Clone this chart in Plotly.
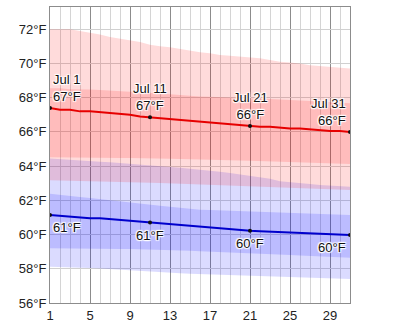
import plotly.graph_objects as go

days = list(range(1, 32))
label_days = [1, 11, 21, 31]
label_names = ["Jul 1", "Jul 11", "Jul 21", "Jul 31"]
x_ticks = [1, 5, 9, 13, 17, 21, 25, 29]
y_ticks = [56, 58, 60, 62, 64, 66, 68, 70, 72]

# average daily high / low (°F)
high_avg = [67.4, 67.3, 67.3, 67.2, 67.2, 67.15, 67.1, 67.05, 67.0, 66.9, 66.85,
            66.8, 66.75, 66.7, 66.65, 66.6, 66.55, 66.5, 66.45, 66.4, 66.35,
            66.3, 66.3, 66.25, 66.2, 66.2, 66.15, 66.1, 66.05, 66.05, 66.0]
low_avg = [61.15, 61.1, 61.05, 61.0, 60.95, 60.95, 60.9, 60.85, 60.8, 60.75, 60.7,
           60.65, 60.6, 60.55, 60.5, 60.45, 60.4, 60.35, 60.3, 60.25, 60.22,
           60.2, 60.17, 60.15, 60.13, 60.1, 60.07, 60.05, 60.02, 60.0, 59.97]

# high temperature percentile bands
high_p90 = [72.0, 72.0, 72.0, 71.9, 71.8, 71.7, 71.55, 71.45, 71.35, 71.25, 71.1,
            71.0, 70.95, 70.85, 70.75, 70.65, 70.6, 70.5, 70.45, 70.4, 70.35,
            70.3, 70.2, 70.1, 70.05, 70.0, 69.9, 69.85, 69.8, 69.75, 69.7]
high_p75 = [68.55, 68.55, 68.5, 68.5, 68.48, 68.45, 68.42, 68.4, 68.36, 68.32, 68.28,
            68.24, 68.2, 68.15, 68.1, 68.07, 68.05, 68.02, 68.0, 67.98, 67.96,
            67.94, 67.92, 67.9, 67.88, 67.85, 67.8, 67.77, 67.74, 67.7, 67.68]
high_p25 = [64.52, 64.52, 64.5, 64.5, 64.5, 64.5, 64.48, 64.48, 64.47, 64.47, 64.46,
            64.45, 64.43, 64.41, 64.39, 64.37, 64.36, 64.35, 64.34, 64.33, 64.32,
            64.3, 64.28, 64.26, 64.24, 64.22, 64.2, 64.18, 64.16, 64.14, 64.13]
high_p10 = [63.17, 63.16, 63.15, 63.14, 63.13, 63.12, 63.1, 63.08, 63.07, 63.05, 63.03,
            63.01, 62.99, 62.97, 62.95, 62.93, 62.91, 62.89, 62.87, 62.85, 62.83,
            62.81, 62.78, 62.75, 62.73, 62.71, 62.68, 62.66, 62.64, 62.62, 62.6]

# low temperature percentile bands
low_p90 = [64.45, 64.42, 64.38, 64.34, 64.3, 64.26, 64.22, 64.18, 64.14, 64.1, 64.05,
           64.0, 63.95, 63.9, 63.85, 63.8, 63.74, 63.67, 63.6, 63.52, 63.44,
           63.36, 63.26, 63.12, 63.05, 63.0, 62.95, 62.9, 62.86, 62.83, 62.8]
low_p75 = [62.38, 62.33, 62.27, 62.2, 62.13, 62.06, 62.0, 61.93, 61.86, 61.8, 61.74,
           61.68, 61.62, 61.56, 61.5, 61.45, 61.43, 61.41, 61.39, 61.37, 61.35,
           61.33, 61.31, 61.29, 61.27, 61.25, 61.23, 61.21, 61.19, 61.17, 61.15]
low_p25 = [59.2, 59.2, 59.19, 59.19, 59.18, 59.18, 59.17, 59.16, 59.15, 59.14, 59.13,
           59.11, 59.09, 59.07, 59.05, 59.03, 59.01, 58.99, 58.97, 58.95, 58.93,
           58.9, 58.87, 58.84, 58.81, 58.78, 58.75, 58.72, 58.7, 58.67, 58.65]
low_p10 = [58.12, 58.11, 58.1, 58.08, 58.05, 58.02, 57.98, 57.95, 57.91, 57.88, 57.84,
           57.8, 57.77, 57.74, 57.71, 57.69, 57.67, 57.65, 57.63, 57.61, 57.59,
           57.57, 57.55, 57.53, 57.51, 57.49, 57.47, 57.45, 57.43, 57.42, 57.4]

RED_BAND = "rgba(255,0,0,0.14)"
BLUE_BAND = "rgba(0,0,255,0.14)"

fig = go.Figure()


def band(lo, hi, color):
    fig.add_trace(go.Scatter(x=days, y=lo, mode="lines", line=dict(width=0),
                             hoverinfo="skip", showlegend=False))
    fig.add_trace(go.Scatter(x=days, y=hi, mode="lines", line=dict(width=0),
                             fill="tonexty", fillcolor=color,
                             hoverinfo="skip", showlegend=False))


band(low_p10, low_p90, BLUE_BAND)
band(low_p25, low_p75, BLUE_BAND)
band(high_p10, high_p90, RED_BAND)
band(high_p25, high_p75, RED_BAND)

fig.add_trace(go.Scatter(x=days, y=high_avg, mode="lines",
                         line=dict(color="#e60000", width=2), showlegend=False))
fig.add_trace(go.Scatter(x=days, y=low_avg, mode="lines",
                         line=dict(color="#0000cc", width=2), showlegend=False))

hi_pts = [high_avg[d - 1] for d in label_days]
lo_pts = [low_avg[d - 1] for d in label_days]
fig.add_trace(go.Scatter(x=label_days, y=hi_pts, mode="markers",
                         marker=dict(color="#111", size=4), showlegend=False))
fig.add_trace(go.Scatter(x=label_days, y=lo_pts, mode="markers",
                         marker=dict(color="#111", size=4), showlegend=False))

halo = "-1px -1px 1px #fff, 1px -1px 1px #fff, -1px 1px 1px #fff, 1px 1px 1px #fff, 0 0 2px #fff"
lab_font = dict(family="Liberation Sans, Arial, sans-serif", size=13, color="#111", shadow=halo)

n = len(label_days)
for i, (d, name, hv, lv) in enumerate(zip(label_days, label_names, hi_pts, lo_pts)):
    if i == 0:
        xa, al, xs = "left", "left", 1
    elif i == n - 1:
        xa, al, xs = "right", "right", -2
    else:
        xa, al, xs = "center", "center", 0
    fig.add_annotation(x=d, y=hv, text=f"{name}<br>{round(hv)}°F", showarrow=False,
                       xanchor=xa, yanchor="bottom", align=al, xshift=xs, yshift=2,
                       font=lab_font)
    fig.add_annotation(x=d, y=lv, text=f"{round(lv)}°F", showarrow=False,
                       xanchor=xa, yanchor="top", align=al, xshift=xs, yshift=-3,
                       font=lab_font)

tick_font = dict(family="Liberation Sans, Arial, sans-serif", size=13, color="#222")

fig.update_layout(
    width=400, height=329,
    margin=dict(l=50, r=50, t=6, b=23),
    paper_bgcolor="white", plot_bgcolor="white",
    showlegend=False,
    xaxis=dict(range=[1, 31], tickmode="array", tickvals=x_ticks,
               ticktext=[str(v) for v in x_ticks],
               showgrid=True, gridcolor="#8c8c8c", gridwidth=1,
               minor=dict(dtick=1, tick0=1, showgrid=True, gridcolor="#d4d4d4", gridwidth=1),
               showline=True, linecolor="#8c8c8c", linewidth=1, mirror=True,
               zeroline=False, ticks="", tickfont=tick_font, fixedrange=True),
    yaxis=dict(range=[56, 73.3], tickmode="array", tickvals=y_ticks,
               ticktext=[f"{v}°F" for v in y_ticks],
               showgrid=True, gridcolor="#d0d0d0", gridwidth=1,
               showline=True, linecolor="#8c8c8c", linewidth=1, mirror=True,
               zeroline=False, ticks="", tickfont=tick_font, fixedrange=True),
)

fig.write_html("out.html")
